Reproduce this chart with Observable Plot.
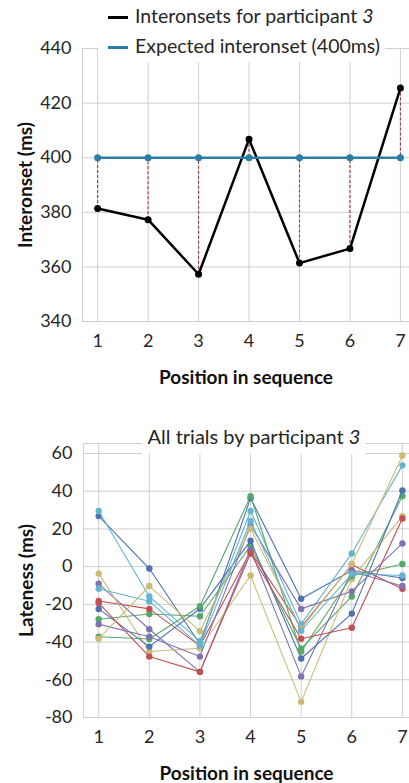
<!DOCTYPE html>
<html><head><meta charset="utf-8">
<script src="https://cdn.jsdelivr.net/npm/d3@7"></script>
<script src="https://cdn.jsdelivr.net/npm/@observablehq/plot@0.6"></script>
<style>
html,body{margin:0;padding:0;background:#fff;}
#wrap{position:relative;width:409px;height:783px;overflow:hidden;font-family:Lato,sans-serif;color:#262626;}
.panel{position:absolute;left:0;}
#topPanel{top:0;}
#botPanel{top:395px;}
g[aria-label="x-axis label"] text, g[aria-label="y-axis label"] text{font-weight:bold;fill:#111;font-size:19px;}
#legend{position:absolute;left:98px;top:0;width:287px;height:62px;background:#fff;}
.lrow{position:absolute;left:10px;font-size:19.5px;line-height:22px;white-space:nowrap;}
.lrow .sw{display:inline-block;width:20px;height:3px;vertical-align:middle;margin-right:7px;position:relative;top:-1px;}
#title{position:absolute;left:142px;top:422px;width:224px;height:32px;background:#fff;font-size:20px;text-align:center;line-height:28px;}
</style></head>
<body>
<div id="wrap">
  <div id="topPanel" class="panel"></div>
  <div id="botPanel" class="panel"></div>
  <div id="legend">
    <div class="lrow" style="top:5px"><span class="sw" style="background:#000"></span>Interonsets for participant <i>3</i></div>
    <div class="lrow" style="top:35px"><span class="sw" style="background:#2c7ca8"></span>Expected interonset (400ms)</div>
  </div>
  <div id="title">All trials by participant <i>3</i></div>
</div>
<script>
// ---- data ----
const positions = [1, 2, 3, 4, 5, 6, 7];
const interonsets = [381.4, 377.3, 357.3, 406.8, 361.4, 366.7, 425.5];
const expectedInteronset = 400;
const interonsetTicks = [340, 360, 380, 400, 420, 440];
const latenessTicks = [-80, -60, -40, -20, 0, 20, 40, 60];

const trialBlueA   = [26.8, -1.0, -41.0, 36.3, -17.0, -2.1, -6.0];
const trialGreenA  = [-27.9, -25.1, -26.3, 11.1, -43.5, -15.8, 37.4];
const trialRedA    = [-18.2, -22.4, -42.0, 8.0, -32.0, 1.0, -11.7];
const trialPurpleA = [-9.1, -33.2, -55.8, 9.0, -58.2, -2.6, -10.3];
const trialYellowA = [-3.7, -45.0, -43.3, -4.7, -71.7, -6.5, 26.8];
const trialCyanA   = [29.5, -15.8, -39.5, 29.5, -30.5, 7.0, 53.7];
const trialBlueB   = [-22.4, -42.4, -22.3, 13.7, -48.7, -24.9, 40.4];
const trialGreenB  = [-37.2, -38.4, -21.0, 37.4, -45.0, -5.0, 1.4];
const trialRedB    = [-19.3, -47.7, -55.8, 7.0, -38.2, -32.4, 25.5];
const trialPurpleB = [-30.5, -37.2, -47.7, 22.0, -22.4, -13.1, 12.3];
const trialYellowB = [-38.2, -10.3, -34.2, 20.2, -33.0, 1.4, 58.9];
const trialCyanB   = [-11.7, -18.4, -41.9, 24.2, -34.0, -3.8, -4.7];

const trials = [trialBlueA, trialGreenA, trialRedA, trialPurpleA, trialYellowA, trialCyanA,
                trialBlueB, trialGreenB, trialRedB, trialPurpleB, trialYellowB, trialCyanB];
const trialColors = ["#4C72B0", "#55A868", "#C44E52", "#8172B2", "#CCB974", "#64B5CD"];

// ---- shared styling ----
const gridColor = "#cfcfcf";
const baseStyle = {fontFamily: "Lato, sans-serif", fontSize: "18px", color: "#262626", background: "white", overflow: "visible"};

function axes(yTicks, yLabel) {
  return [
    Plot.axisX(positions, {tickSize: 0, tickPadding: 13, fontSize: 18, tickFormat: d => String(d), label: "Position in sequence", labelAnchor: "center", labelOffset: 62, labelArrow: "none"}),
    Plot.axisY(yTicks, {tickSize: 0, tickPadding: 11, fontSize: 18, tickFormat: d => String(d), label: yLabel, labelAnchor: "center", labelOffset: 64, labelArrow: "none"})
  ];
}

// ---- top panel ----
const topData = positions.map((p, i) => ({pos: p, value: interonsets[i], expected: expectedInteronset}));

const topChart = Plot.plot({
  width: 409, height: 395,
  marginTop: 48, marginBottom: 74, marginLeft: 82, marginRight: 0,
  style: baseStyle,
  x: {domain: [0.7, 7.18]},
  y: {domain: [340, 440]},
  marks: [
    Plot.gridX(positions, {stroke: gridColor, strokeOpacity: 1}),
    Plot.gridY(interonsetTicks, {stroke: gridColor, strokeOpacity: 1}),
    Plot.ruleX([0.7], {stroke: gridColor}),
    Plot.ruleY([340], {stroke: gridColor}),
    ...axes(interonsetTicks, "Interonset (ms)"),
    Plot.ruleX(topData, {x: "pos", y1: "value", y2: "expected", stroke: "#a3363d", strokeWidth: 1.1, strokeDasharray: "3,2"}),
    Plot.line(topData, {x: "pos", y: "value", stroke: "#000", strokeWidth: 2.5}),
    Plot.dot(topData, {x: "pos", y: "value", fill: "#000", r: 3.5}),
    Plot.line(topData, {x: "pos", y: "expected", stroke: "#2c7ca8", strokeWidth: 2.5}),
    Plot.dot(topData, {x: "pos", y: "expected", fill: "#2c7ca8", r: 3.5})
  ]
});
document.getElementById("topPanel").appendChild(topChart);

// ---- bottom panel ----
const trialMarks = trials.flatMap((vals, t) => {
  const rows = vals.map((v, i) => ({pos: positions[i], lateness: v}));
  const c = trialColors[t % trialColors.length];
  return [
    Plot.line(rows, {x: "pos", y: "lateness", stroke: c, strokeWidth: 1.1}),
    Plot.dot(rows, {x: "pos", y: "lateness", fill: c, r: 3.2})
  ];
});

const botChart = Plot.plot({
  width: 409, height: 388,
  marginTop: 48, marginBottom: 66, marginLeft: 83, marginRight: 0,
  style: baseStyle,
  x: {domain: [0.7, 7.14]},
  y: {domain: [-80, 65.3]},
  marks: [
    Plot.gridX(positions, {stroke: gridColor, strokeOpacity: 1}),
    Plot.gridY(latenessTicks, {stroke: gridColor, strokeOpacity: 1}),
    Plot.ruleX([0.7], {stroke: gridColor}),
    Plot.ruleY([-80, 65.3], {stroke: gridColor}),
    ...axes(latenessTicks, "Lateness (ms)"),
    ...trialMarks
  ]
});
document.getElementById("botPanel").appendChild(botChart);
</script>
</body></html>
